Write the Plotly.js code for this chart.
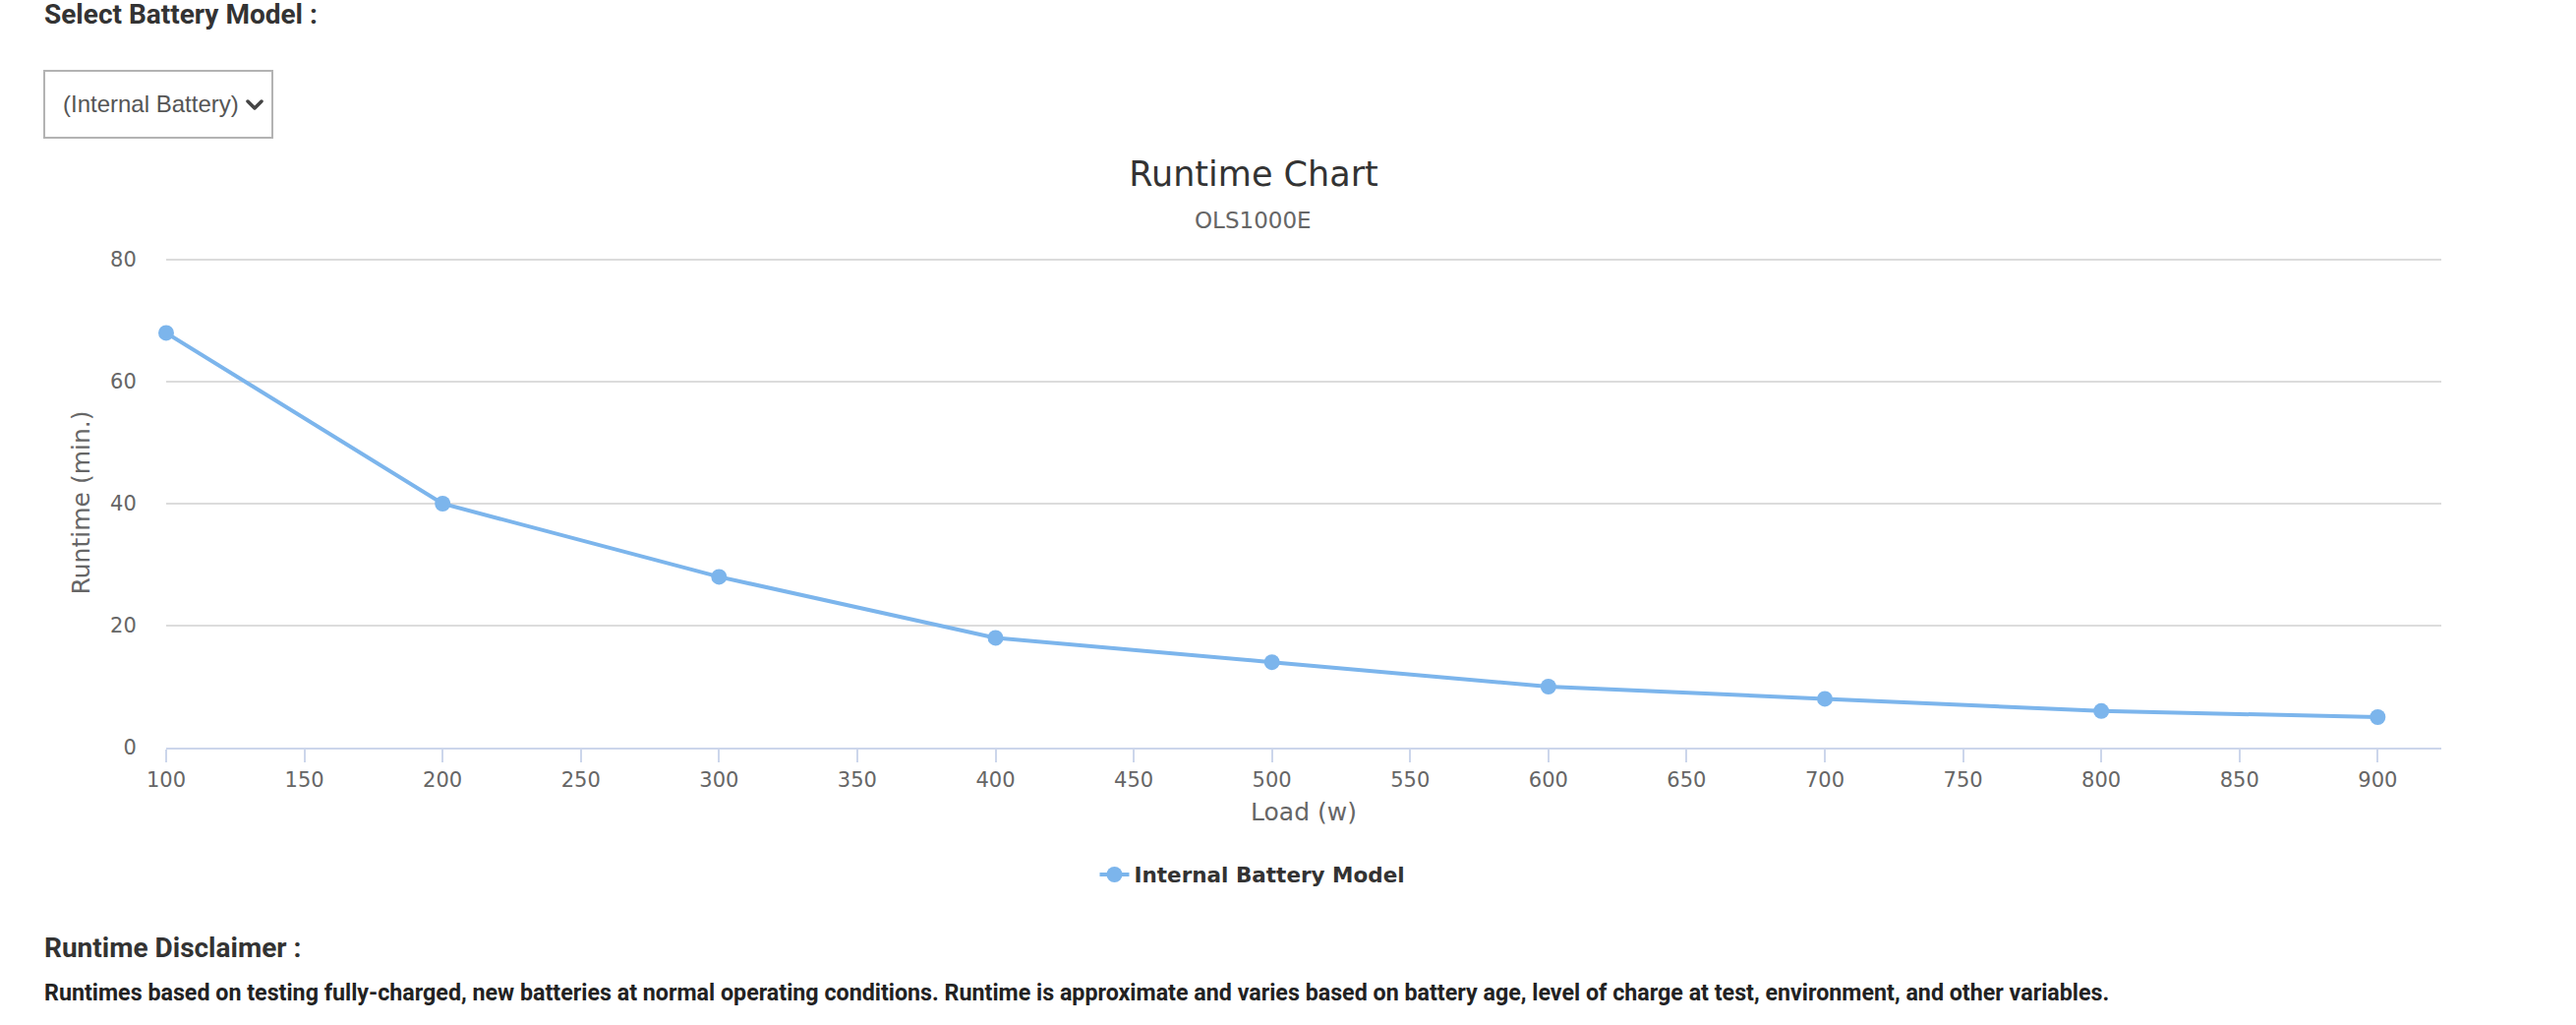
<!DOCTYPE html>
<html><head><meta charset="utf-8">
<script src="https://cdn.plot.ly/plotly-3.0.1.min.js"></script>
<style>
html,body{margin:0;padding:0;background:#fff;width:2620px;height:1042px;overflow:hidden;}
#chart{position:absolute;left:0;top:0;width:2620px;height:1042px;}
.t{position:absolute;white-space:nowrap;font-family:Roboto,"Liberation Sans",sans-serif;}
</style></head><body>
<div id="chart"></div>
<div class="t" style="left:45px;top:0px;height:30px;line-height:30px;font-size:28px;font-weight:700;color:#333">Select Battery Model :</div>
<div style="position:absolute;left:44px;top:71px;width:230px;height:66px;border:2px solid #b3b3b3;background:#fff;">
  <div class="t" style="left:18px;top:0;height:66px;line-height:66px;font-family:'Liberation Sans',Arial,sans-serif;font-size:24px;color:#555">(Internal Battery)</div>
  <svg style="position:absolute;left:204px;top:27px" width="18" height="14" viewBox="0 0 18 14"><polyline points="2,3 9,10 16,3" fill="none" stroke="#444" stroke-width="3.5" stroke-linecap="round" stroke-linejoin="round"/></svg>
</div>
<div class="t" style="left:45px;top:949px;height:30px;line-height:30px;font-size:28px;font-weight:700;color:#333">Runtime Disclaimer :</div>
<div class="t" style="left:45px;top:995px;height:28px;line-height:28px;font-size:23.25px;font-weight:700;color:#222">Runtimes based on testing fully-charged, new batteries at normal operating conditions. Runtime is approximate and varies based on battery age, level of charge at test, environment, and other variables.</div>
<script>
const chartTitle = "Runtime Chart";
const chartSubtitle = "OLS1000E";
const seriesName = "Internal Battery Model";
const xTitle = "Load (w)";
const yTitle = "Runtime (min.)";
const loads = [100, 200, 300, 400, 500, 600, 700, 800, 900];
const runtimes = [68, 40, 28, 18, 14, 10, 8, 6, 5];
const xTickVals = [100, 150, 200, 250, 300, 350, 400, 450, 500, 550, 600, 650, 700, 750, 800, 850, 900];
const yTickVals = [0, 20, 40, 60, 80];

const font = "DejaVu Sans, sans-serif";
const trace = {
  x: loads, y: runtimes, type: "scatter", mode: "lines+markers", name: seriesName,
  line: {color: "#7cb5ec", width: 4},
  marker: {color: "#7cb5ec", size: 16},
  cliponaxis: false,
  showlegend: true, hoverinfo: "x+y"
};
const layout = {
  width: 2620, height: 1042,
  paper_bgcolor: "rgba(0,0,0,0)", plot_bgcolor: "rgba(0,0,0,0)",
  margin: {l: 169, r: 137, t: 262, b: 282, pad: 0},
  font: {family: font, color: "#666"},
  title: {text: chartTitle, font: {family: font, size: 35, color: "#333"},
          x: 1275/2620, xref: "container", xanchor: "center",
          y: 1 - 177/1042, yref: "container", yanchor: "middle"},
  annotations: [{text: chartSubtitle, xref: "paper", yref: "paper",
                 x: (1274-169)/2314, y: (760-224)/498, xanchor: "center", yanchor: "middle",
                 showarrow: false, font: {family: font, size: 23, color: "#666"}}],
  xaxis: {
    range: [100, 923], tickvals: xTickVals, ticktext: xTickVals.map(String),
    showgrid: false, zeroline: false, showline: true, linecolor: "#ccd6eb", linewidth: 2,
    ticks: "outside", ticklen: 13, tickwidth: 2, tickcolor: "#ccd6eb",
    tickfont: {family: font, size: 21, color: "#666"},
    title: {text: xTitle, font: {family: font, size: 25, color: "#666"}, standoff: 12},
    automargin: true, fixedrange: true
  },
  yaxis: {
    range: [0, 80.32], tickvals: yTickVals, ticktext: yTickVals.map(String),
    showgrid: true, gridcolor: "#dcdcdc", gridwidth: 2, zeroline: false, showline: false,
    ticks: "outside", ticklen: 25, tickcolor: "rgba(0,0,0,0)",
    tickfont: {family: font, size: 21, color: "#666"},
    title: {text: yTitle, font: {family: font, size: 25, color: "#666"}, standoff: 13},
    automargin: true, fixedrange: true
  },
  legend: {orientation: "h", x: (1274-169)/2314, xanchor: "center", y: (760-889)/498, yanchor: "middle",
           font: {family: "DejaVu Sans, sans-serif", size: 21.5, color: "#333", weight: "bold"},
           itemwidth: 30},
  showlegend: true
};
Plotly.newPlot("chart", [trace], layout, {displayModeBar: false, staticPlot: false});
</script>
</body></html>
